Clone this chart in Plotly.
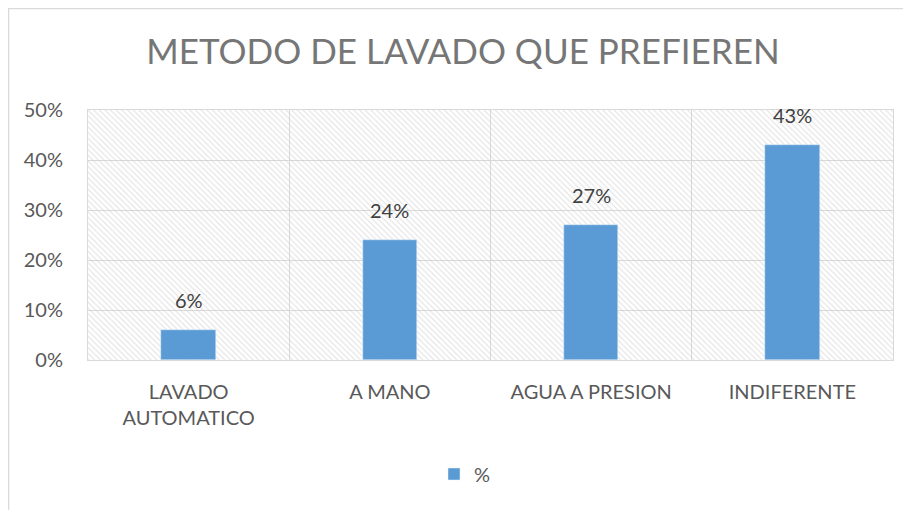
import plotly.graph_objects as go

categorias = ["LAVADO<br>AUTOMATICO", "A MANO", "AGUA A PRESION", "INDIFERENTE"]
porcentajes = [0.06, 0.24, 0.27, 0.43]
etiquetas = ["6%", "24%", "27%", "43%"]
serie = "%"

W, H = 911, 510
L, T = 80, 102
pw, ph = 805, 250
R, B = W - L - pw, H - T - ph


def px_x(p):
    return (p - L) / pw


def px_y(p):
    return (H - B - p) / ph


fig = go.Figure()

# fondo rayado del área del gráfico (eje oculto 0-1)
fig.add_trace(go.Bar(
    x=[0.5], y=[1], width=[1], xaxis="x", yaxis="y",
    marker=dict(color="rgba(0,0,0,0)", line_width=0,
                pattern=dict(shape="\\", fgcolor="#cccccc", bgcolor="rgba(0,0,0,0)",
                             size=4, solidity=0.3)),
    showlegend=False, hoverinfo="skip",
))

fig.add_trace(go.Bar(
    x=categorias, y=porcentajes, name=serie, xaxis="x2", yaxis="y2",
    width=0.27, marker_color="#5b9bd5", hoverinfo="x+y",
))

etiquetas_barras = [
    dict(x=c, y=v, text=t, xref="x2", yref="y2", showarrow=False,
         yanchor="bottom", yshift=16, font=dict(size=20, color="#404040"))
    for c, v, t in zip(categorias, porcentajes, etiquetas)
]

fig.update_layout(
    width=W, height=H,
    margin=dict(l=L, r=R, t=T, b=B, autoexpand=False),
    paper_bgcolor="white", plot_bgcolor="white",
    font=dict(family="Lato, Noto Sans, sans-serif", color="#595959", size=20),
    title=dict(text="METODO DE LAVADO QUE PREFIEREN", x=px_x(455), xanchor="center",
               xref="paper", y=1 - 44 / H, yanchor="middle",
               font=dict(size=35, color="#767676")),
    xaxis=dict(range=[0, 1], visible=False, fixedrange=True),
    yaxis=dict(range=[0, 1], visible=False, fixedrange=True),
    xaxis2=dict(overlaying="x", anchor="y2", type="category",
                tickson="boundaries", showgrid=True, gridcolor="#d9d9d9",
                showline=True, linecolor="#d9d9d9", mirror=True,
                ticks="", ticklabelstandoff=14, tickfont=dict(size=20, color="#595959")),
    yaxis2=dict(overlaying="y", anchor="x2", side="left", range=[0, 0.5],
                tickvals=[0, 0.1, 0.2, 0.3, 0.4, 0.5], tickformat=".0%",
                showgrid=True, gridcolor="#d9d9d9", zeroline=False,
                showline=True, linecolor="#d9d9d9", mirror=True,
                ticks="", ticklabelstandoff=20, tickfont=dict(size=20, color="#595959")),
    legend=dict(orientation="h", x=px_x(457), xanchor="center", y=px_y(466),
                yanchor="middle", itemwidth=30, font=dict(size=20, color="#595959")),
    barmode="overlay", bargap=0,
    annotations=etiquetas_barras,
    shapes=[dict(type="rect", xref="paper", yref="paper",
                 x0=px_x(0.5), x1=px_x(W + 20), y0=px_y(H + 20), y1=px_y(0.5),
                 line=dict(color="#d9d9d9", width=1.5), fillcolor="rgba(0,0,0,0)",
                 layer="below")],
)

fig.write_html("out.html")
